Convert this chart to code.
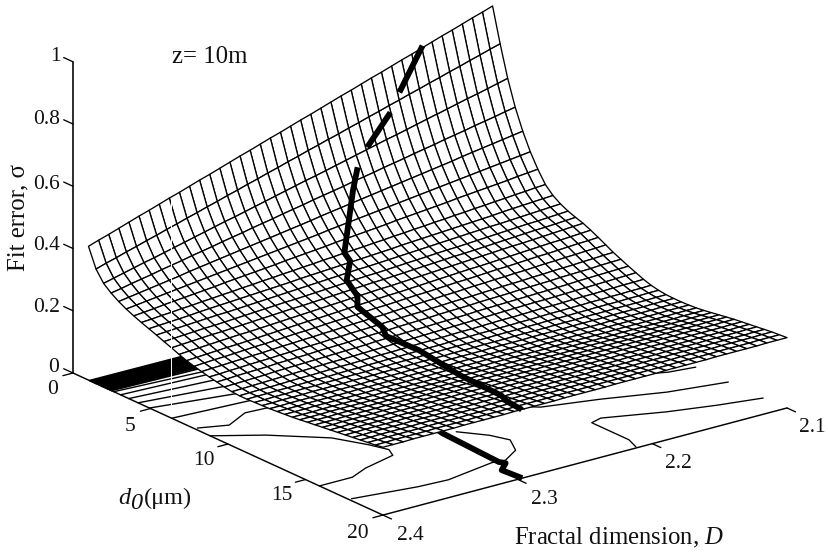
import numpy as np, matplotlib
matplotlib.use('Agg')
import matplotlib.pyplot as plt, seaborn as sns
from mpl_toolkits.mplot3d import proj3d
sns.set_theme(style='white')
plt.rcParams.update({'font.family':['Liberation Serif','DejaVu Sans'],'mathtext.fontset':'custom','mathtext.rm':'Liberation Serif','mathtext.it':'Liberation Serif:italic','text.color':'#111111'})

d0_vals=np.linspace(1,20,40)
D_vals=np.linspace(2.4,2.1,41)
# fit error, in thousandths; one row per d0, one column per D
sigma_milli=[
[430,441,451,462,473,484,494,505,516,526,537,548,558,569,580,591,601,612,623,633,644,655,665,676,687,698,708,719,730,740,751,762,772,783,794,805,815,826,837,847,858],
[368,378,387,397,406,416,425,435,444,454,463,473,482,492,501,511,520,530,539,549,558,568,577,587,596,606,615,625,634,644,653,663,672,682,691,701,710,720,729,739,748],
[333,341,349,357,365,372,380,388,396,404,412,420,428,435,443,451,459,467,475,483,491,498,506,514,522,530,538,546,554,561,569,577,585,593,601,609,617,624,632,640,648],
[313,319,326,332,338,345,351,357,364,370,376,383,389,395,402,408,414,421,427,433,440,446,452,458,465,471,477,484,490,496,503,509,515,522,528,534,541,547,553,560,566],
[297,302,307,312,317,322,327,333,338,343,348,353,358,363,368,373,378,383,388,393,399,404,409,414,419,424,429,434,439,444,449,454,459,464,470,475,480,485,490,495,500],
[284,288,292,296,300,304,308,312,316,320,324,328,332,336,340,344,348,352,356,360,365,369,373,377,381,385,389,393,397,401,405,409,413,417,421,425,429,433,437,441,445],
[273,276,279,283,286,289,292,295,298,302,305,308,311,314,317,321,324,327,330,333,337,340,343,346,349,352,356,359,362,365,368,371,375,378,381,384,387,390,394,397,400],
[263,265,268,270,273,275,278,280,283,285,288,290,293,295,298,300,303,305,308,310,313,315,317,320,322,325,327,330,332,335,337,340,342,345,347,350,352,355,357,360,362],
[254,256,258,260,262,265,267,269,271,273,275,277,279,281,283,286,288,290,292,294,296,298,300,302,304,307,309,311,313,315,317,319,321,323,325,328,330,332,334,336,338],
[245,247,249,251,253,255,257,258,260,262,264,266,268,270,272,274,276,278,280,282,284,285,287,289,291,293,295,297,299,301,303,305,307,309,310,312,314,316,318,320,322],
[235,237,239,241,243,244,246,248,250,252,254,256,258,259,261,263,265,267,269,271,273,274,276,278,280,282,284,286,288,289,291,293,295,297,299,301,303,304,306,308,310],
[226,228,230,232,234,235,237,239,241,243,245,247,249,250,252,254,256,258,260,262,264,265,267,269,271,273,275,277,279,280,282,284,286,288,290,292,294,295,297,299,301],
[216,218,220,222,224,226,228,229,231,233,235,237,239,241,243,245,247,249,251,253,255,256,258,260,262,264,266,268,270,272,274,276,278,280,281,283,285,287,289,291,293],
[207,209,211,213,215,216,218,220,222,224,226,228,230,231,233,235,237,239,241,243,245,246,248,250,252,254,256,258,260,261,263,265,267,269,271,273,275,276,278,280,282],
[200,202,204,205,207,209,211,212,214,216,218,219,221,223,225,226,228,230,232,233,235,237,239,240,242,244,246,247,249,251,253,254,256,258,260,261,263,265,267,268,270],
[194,196,197,199,200,202,203,205,207,208,210,211,213,214,216,218,219,221,222,224,226,227,229,230,232,233,235,237,238,240,241,243,244,246,248,249,251,252,254,255,257],
[188,189,191,192,194,195,196,198,199,201,202,203,205,206,208,209,210,212,213,215,216,217,219,220,222,223,224,226,227,229,230,231,233,234,236,237,238,240,241,243,244],
[183,184,186,187,188,189,191,192,193,194,196,197,198,199,201,202,203,204,206,207,208,209,211,212,213,214,216,217,218,219,221,222,223,224,226,227,228,229,231,232,233],
[178,179,180,181,182,184,185,186,187,188,189,190,191,192,193,195,196,197,198,199,200,201,202,203,204,206,207,208,209,210,211,212,213,214,215,217,218,219,220,221,222],
[174,175,176,177,178,179,180,181,182,183,184,184,185,186,187,188,189,190,191,192,193,194,195,196,197,198,199,200,201,202,203,203,204,205,206,207,208,209,210,211,212],
[172,173,174,174,175,176,177,177,178,179,180,180,181,182,183,183,184,185,186,186,187,188,189,189,190,191,192,192,193,194,195,195,196,197,198,198,199,200,201,201,202],
[172,173,173,174,174,175,175,176,176,177,178,178,179,179,180,180,181,181,182,182,183,184,184,185,185,186,186,187,187,188,189,189,190,190,191,191,192,192,193,193,194],
[173,173,174,174,175,175,175,176,176,177,177,177,178,178,179,179,179,180,180,181,181,181,182,182,183,183,183,184,184,185,185,185,186,186,187,187,187,188,188,189,189],
[174,174,175,175,175,176,176,176,176,177,177,177,178,178,178,179,179,179,179,180,180,180,181,181,181,182,182,182,182,183,183,183,184,184,184,185,185,185,185,186,186],
[175,175,176,176,176,176,177,177,177,177,178,178,178,178,179,179,179,179,180,180,180,180,181,181,181,181,182,182,182,182,183,183,183,183,184,184,184,184,185,185,185],
[177,177,177,178,178,178,178,178,179,179,179,179,179,180,180,180,180,180,181,181,181,181,181,182,182,182,182,182,183,183,183,183,183,184,184,184,184,184,185,185,185],
[179,179,179,180,180,180,180,180,180,181,181,181,181,181,181,182,182,182,182,182,183,183,183,183,183,183,184,184,184,184,184,184,185,185,185,185,185,185,186,186,186],
[181,181,181,182,182,182,182,182,182,183,183,183,183,183,183,184,184,184,184,184,185,185,185,185,185,185,186,186,186,186,186,186,187,187,187,187,187,187,188,188,188],
[184,184,184,185,185,185,185,185,185,186,186,186,186,186,186,187,187,187,187,187,188,188,188,188,188,188,189,189,189,189,189,189,190,190,190,190,190,190,191,191,191],
[187,187,187,188,188,188,188,188,189,189,189,189,189,190,190,190,190,190,191,191,191,191,191,192,192,192,192,192,193,193,193,193,193,194,194,194,194,194,195,195,195],
[190,190,190,191,191,191,191,192,192,192,192,192,193,193,193,193,194,194,194,194,195,195,195,195,195,196,196,196,196,197,197,197,197,197,198,198,198,198,199,199,199],
[193,193,194,194,194,194,195,195,195,195,196,196,196,196,197,197,197,197,198,198,198,198,199,199,199,199,200,200,200,200,201,201,201,201,202,202,202,202,203,203,203],
[196,196,197,197,197,197,198,198,198,198,199,199,199,200,200,200,200,201,201,201,202,202,202,202,203,203,203,203,204,204,204,205,205,205,205,206,206,206,206,207,207],
[199,199,200,200,200,200,201,201,201,201,202,202,202,203,203,203,203,204,204,204,205,205,205,205,206,206,206,206,207,207,207,208,208,208,208,209,209,209,209,210,210],
[202,202,203,203,203,203,204,204,204,204,205,205,205,206,206,206,206,207,207,207,208,208,208,208,209,209,209,209,210,210,210,211,211,211,211,212,212,212,212,213,213],
[205,205,206,206,206,206,207,207,207,207,208,208,208,209,209,209,209,210,210,210,211,211,211,211,212,212,212,212,213,213,213,214,214,214,214,215,215,215,215,216,216],
[208,208,209,209,209,209,210,210,210,210,211,211,211,212,212,212,212,213,213,213,214,214,214,214,215,215,215,215,216,216,216,217,217,217,217,218,218,218,218,219,219],
[211,211,212,212,212,212,213,213,213,213,214,214,214,215,215,215,215,216,216,216,217,217,217,217,218,218,218,218,219,219,219,220,220,220,220,221,221,221,221,222,222],
[214,214,215,215,215,215,216,216,216,216,217,217,217,217,218,218,218,218,219,219,219,219,220,220,220,220,221,221,221,221,222,222,222,222,223,223,223,223,224,224,224],
[218,218,218,219,219,219,219,219,220,220,220,220,220,221,221,221,221,221,222,222,222,222,222,223,223,223,223,223,224,224,224,224,224,225,225,225,225,225,226,226,226],
]
Z=np.array(sigma_milli)/1000

ridge_seg1=([1.0,1.42],[2.152,2.174],[.79,.675])
ridge_seg2=([1.62,1.95],[2.183,2.204],[.625,.545])
ridge_seg3=([2.2,2.6,4.3,4.8,5.7,6.8,7.4,9.0,9.6,11.2,14.6,17.9,18.7,20.0],
            [2.214,2.222,2.248,2.2495,2.2624,2.267,2.274,2.274,2.278,2.272,2.28,2.288,2.293,2.297],
            [.498,.443,.31,.297,.27,.25,.237,.209,.198,.182,.187,.208,.213,.221])
floor_ridge=([13.0,14.1,18.0,18.27,18.8,20.0],[2.285,2.288,2.291,2.289,2.298,2.2966])

wedge=[1.07,1.17,1.27,1.37,1.47,1.57,1.67,1.77,1.87,1.97,2.07,2.17,2.27,2.37,2.47,2.63,3.07,3.6,4.2,4.93,6.37]
wedge_end=[1.11,1.21,1.31,1.41,1.51,1.62,1.72,1.82,1.92,2.05,2.15,2.25,2.35,2.45,2.6,2.99,3.35,4.03,4.89,5.9,6.72]
wedge_D=[2.33]*21
c1=([7.85,8.34,7.62,7.70,7.77],[2.398,2.38,2.36,2.345,2.321])
c2=([8.84,10.1,11.9,13.4,14.3,14.9,15.4,15.9,15.9],[2.4,2.373,2.345,2.3345,2.33,2.334,2.36,2.3755,2.4])
c3=([17.8,18.3,18.4,17.9,18.0,17.35,16.3,15.4,14.3],[2.398,2.3545,2.333,2.295,2.286,2.271,2.263,2.268,2.28])
c4=([19.9,19.1,18.0,16.7,16.5,17.5,18.1,18.55],[2.211,2.207,2.207,2.207,2.198,2.1605,2.13,2.101])
c5=([12.0,14.1,14.8,15.75,16.3],[2.25,2.215,2.179,2.14,2.101])
c6=([12.9,14.0,14.2],[2.157,2.119,2.101])
scan_streak=([6.16,6.16],[2.398,2.398],[0,.69])

W,H=829,554
fig=plt.figure(figsize=(W/100,H/100),dpi=100,facecolor='white')
S0=800
ax=fig.add_axes([0,0,S0/W,S0/H],projection='3d',computed_zorder=False,proj_type='ortho')
ax.view_init(elev=20.4,azim=-37.25)
ax.set_box_aspect((512,507.6,332))
ax.set_xlim(0,20);ax.set_ylim(2.4,2.1);ax.set_zlim(0,1)
ax.set_axis_off()

def line(x,y,z,lw=.8,zo=2,color='black',cap='round'):
    ax.plot(x,y,z,color=color,lw=lw,zorder=zo,solid_capstyle=cap)
for a,b,e in zip(wedge,wedge_end,wedge_D):
    line([a,b],[2.4,e],[0,0],lw=1.35 if a<2.6 else 1.0)
for c in (c1,c2,c3,c4,c5,c6):
    line(c[0],c[1],np.zeros(len(c[0])),lw=.95)
line(floor_ridge[0],floor_ridge[1],np.zeros(len(floor_ridge[0])),lw=4.2,cap='butt')
line([0,0],[2.4,2.4],[0,1],lw=1.15,zo=3)
line([0,20],[2.4,2.4],[0,0],lw=1.05,zo=3)
line([20,20],[2.4,2.1],[0,0],lw=1.05,zo=3)
Zt=[0,.2,.4,.6,.8,1]
for z in Zt: line([0,-.6],[2.4,2.4],[z,z],lw=.95,zo=3)
Dt=[0,5,10,15,20]
for d in Dt: line([d,d],[2.4,2.4075],[0,0],lw=.95,zo=3)
Dd=[2.4,2.3,2.2,2.1]
for v in Dd: line([20,20.55],[v,v],[0,0],lw=.95,zo=3)
X,Y=np.meshgrid(d0_vals,D_vals,indexing='ij')
ax.plot_surface(X,Y,Z,rstride=1,cstride=1,color='white',edgecolor='black',linewidth=.95,shade=False,zorder=5)
for s in (ridge_seg1,ridge_seg2,ridge_seg3):
    line(s[0],s[1],s[2],lw=4.2,zo=8,cap='butt')
line(*scan_streak,lw=.7,zo=9,color='white')

def px(d,D,z):
    x2,y2,_=proj3d.proj_transform(d,D,z,ax.get_proj())
    return ax.transData.transform((x2,y2))
fig.canvas.draw()
a,b=px(0,2.4,0),px(20,2.1,0)
ta,tb=np.array([73,H-373.]),np.array([787,H-408.])
S=S0*np.linalg.norm(tb-ta)/np.linalg.norm(b-a)
ax.set_position([0,0,S/W,S/H]);fig.canvas.draw()
off=ta-px(0,2.4,0)
ax.set_position([off[0]/W,off[1]/H,S/W,S/H]);fig.canvas.draw()

def lab(d,D,z,t,dx,dy,size=15.5,**k):
    x2,y2,_=proj3d.proj_transform(d,D,z,ax.get_proj())
    ax.annotate(t,(x2,y2),xytext=(dx,dy),textcoords='offset pixels',ha='center',va='center',fontsize=size,annotation_clip=False,**k)
for z,t,o in zip(Zt,['0','0.2','0.4','0.6','0.8','1'],[(-19,5),(-26,3),(-26,3),(-26,2),(-26,5),(-18,5)]):
    lab(0,2.4,z,t,*o)
for d,t,o in zip(Dt,['0','5','10','15','20'],[(-20,-17),(-20,-18),(-24,-16),(-24,-16),(-25,-18)]):
    lab(d,2.4,0,t,*o)
for v,t,o in zip(Dd,['2.4','2.3','2.2','2.1'],[(27,-20),(27,-20),(26,-20),(25,-20)]):
    lab(20,v,0,t,*o)
lab(20,2.25,0,r'Fractal dimension, $\mathit{D}$',34,-76,size=17.8)
lab(15,2.4,0,'d',-181,-19,size=17.5,style='italic')
lab(15,2.4,0,'0',-169,-24,size=17.5,style='italic')
lab(15,2.4,0,'(μm)',-138,-19,size=17.5)
lab(0,2.4,.5,'Fit error, σ',-55,0,size=17.8,rotation=90)
lab(0,2.4,1,'z= 10m',137,5,size=17.8)
fig.savefig('out.png',dpi=100,facecolor='white')
